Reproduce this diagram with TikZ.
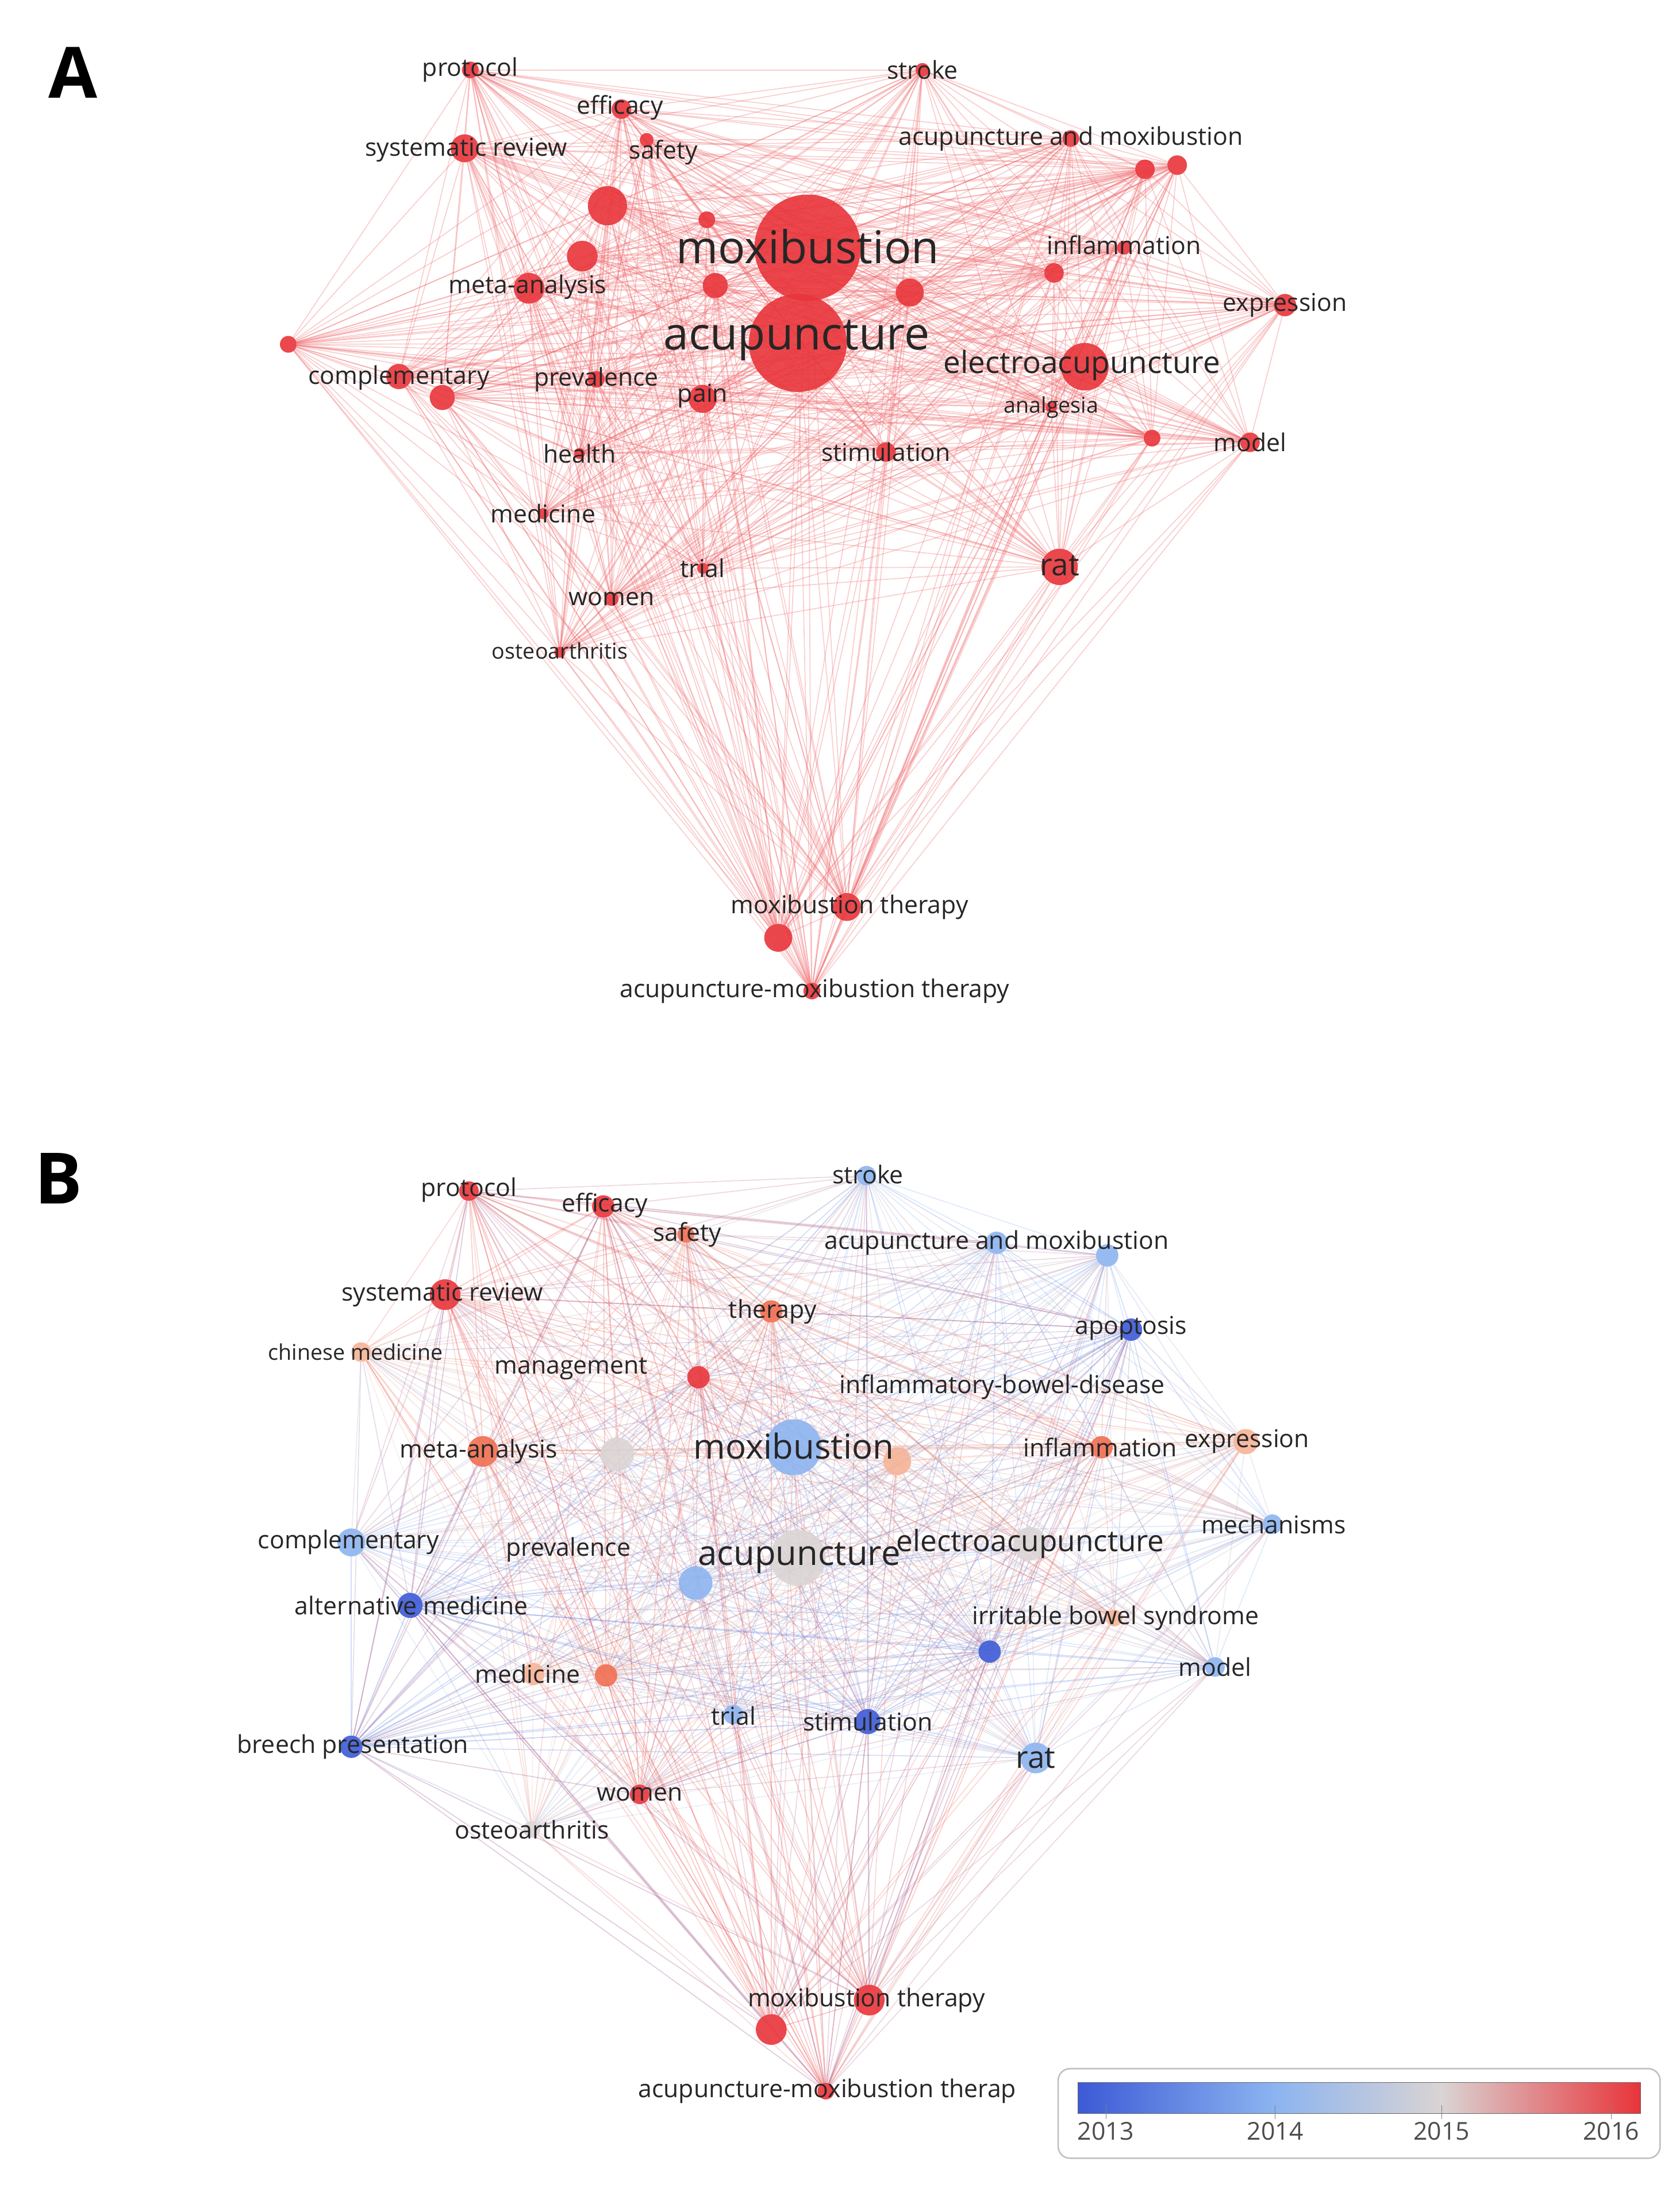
\documentclass[tikz,border=0pt]{standalone}
\usepackage{fontspec}
\setmainfont{Open Sans}
\usetikzlibrary{backgrounds}
\definecolor{c13}{RGB}{60,90,214}
\definecolor{c14}{RGB}{140,180,240}
\definecolor{c15}{RGB}{218,212,212}
\definecolor{c155}{RGB}{245,178,150}
\definecolor{c158}{RGB}{240,110,80}
\definecolor{c16}{RGB}{232,52,58}
\tikzset{
  dot/.style={circle,inner sep=0pt,opacity=0.9},
  lbl/.style={font=\fontsize{25}{27}\selectfont,inner sep=0pt,text=black!85},
  lblS/.style={font=\fontsize{22}{24}\selectfont,inner sep=0pt,text=black!85},
  lblM/.style={font=\fontsize{31}{33}\selectfont,inner sep=0pt,text=black!85},
  lblL/.style={font=\fontsize{46}{48}\selectfont,inner sep=0pt,text=black!85},
  panel/.style={font=\fontsize{72}{72}\selectfont\bfseries,inner sep=0pt}
}
\begin{document}
\begin{tikzpicture}[x=0.05cm,y=-0.05cm]
\useasboundingbox (0,0) rectangle (1200,1569);
\node[panel] (pA) at (52,52) {A};
\node[panel] (pB) at (42,842) {B};
% panel A dots
\foreach \n/\x/\y/\r in {a1/577/177/38,a2/570/245/35,a3/775/262/17,a4/757/405/13,a5/605/648/10,
  a6/556/670/10,a7/580/708/6,a8/336/50/6,a9/659/50/5,a10/444/78/7,a11/332/106/10,a12/462/100/5,
  a13/765/99/6,a14/818/121/7,a15/841/118/7,a16/434/147/14,a17/505/157/6,a18/416/183/11,
  a19/753/195/7,a20/378/206/11,a21/511/204/9,a22/650/209/10,a23/918/218/8,a24/206/246/6,
  a25/285/269/9,a26/316/284/9,a27/426/271/6,a28/502/285/10,a29/751/291/4,a30/823/313/6,
  a31/893/316/7,a32/633/323/7,a33/414/324/4,a34/388/367/4,a35/502/406/4,a36/437/428/5,
  a37/400/466/4,a38/803/177/5}
  \node[dot,fill=c16,minimum size=\r*0.1cm] (\n) at (\x,\y) {};
\begin{pgfonlayer}{background}
\foreach \a [count=\i] in {a1,a2,a3,a4,a5,a6,a7,a8,a9,a10,a11,a12,a13,a14,a15,a16,a17,a18,a19,
  a20,a21,a22,a23,a24,a25,a26,a27,a28,a29,a30,a31,a32,a33,a34,a35,a36,a37,a38}
  \foreach \b [count=\j] in {a1,a2,a3,a4,a5,a6,a7,a8,a9,a10,a11,a12,a13,a14,a15,a16,a17,a18,a19,
  a20,a21,a22,a23,a24,a25,a26,a27,a28,a29,a30,a31,a32,a33,a34,a35,a36,a37,a38}
  {\ifnum\i<\j \draw[c16!75,opacity=0.32,line width=1pt] (\a) -- (\b);\fi}
\end{pgfonlayer}
% panel A labels
\node[lbl] (la8) at (336,50) {protocol};
\node[lbl] (la9) at (659,50) {stroke};
\node[lbl] (la10) at (443,77) {efficacy};
\node[lbl] (la11) at (333,107) {systematic review};
\node[lbl] (la12) at (474,109) {safety};
\node[lbl] (la13) at (765,99) {acupuncture and moxibustion};
\node[lblL] (la1) at (577,176) {moxibustion};
\node[lbl] (la19) at (803,175) {inflammation};
\node[lbl] (la20) at (377,205) {meta-analysis};
\node[lbl] (la23) at (918,218) {expression};
\node[lblL] (la2) at (569,243) {acupuncture};
\node[lblM] (la3) at (773,261) {electroacupuncture};
\node[lbl] (la25) at (285,270) {complementary};
\node[lbl] (la27) at (426,271) {prevalence};
\node[lbl] (la28) at (502,283) {pain};
\node[lblS] (la29) at (751,291) {analgesia};
\node[lbl] (la31) at (893,316) {model};
\node[lbl] (la33) at (414,324) {health};
\node[lbl] (la32) at (633,323) {stimulation};
\node[lbl] (la34) at (388,367) {medicine};
\node[lbl] (la35) at (502,406) {trial};
\node[lblM] (la4) at (757,404) {rat};
\node[lbl] (la36) at (437,428) {women};
\node[lblS] (la37) at (400,465) {osteoarthritis};
\node[lbl] (la5) at (607,648) {moxibustion therapy};
\node[lbl] (la7) at (582,708) {acupuncture-moxibustion therapy};
% panel B dots
\foreach \n/\x/\y/\r/\c in {b1/567/1034/20/c14,b2/570/1113/20/c15,b3/736/1103/12/c15,b4/740/1256/11/c14,
  b5/621/1429/11/c16,b6/551/1450/11/c16,b7/590/1494/6/c16,b8/335/851/7/c16,b9/619/840/7/c14,
  b10/431/862/8/c16,b11/490/882/6/c158,b12/712/888/8/c14,b13/791/897/8/c14,b14/318/925/11/c16,
  b15/551/937/8/c158,b16/808/950/8/c13,b17/258/966/7/c155,b18/499/984/8/c16,b19/345/1037/11/c158,
  b20/441/1039/12/c15,b21/641/1044/10/c155,b22/787/1034/8/c158,b23/890/1030/9/c155,
  b24/251/1102/10/c14,b25/909/1089/7/c14,b26/497/1131/12/c14,b27/293/1147/9/c13,
  b28/796/1156/6/c155,b29/707/1180/8/c13,b30/381/1196/8/c155,b31/433/1197/8/c158,
  b32/868/1191/7/c14,b33/251/1248/8/c13,b34/524/1225/7/c14,b35/620/1230/9/c13,
  b36/457/1282/7/c16,b37/380/1307/6/c15}
  \node[dot,fill=\c,minimum size=\r*0.1cm] (\n) at (\x,\y) {};
\begin{pgfonlayer}{background}
\foreach \a/\ca [count=\i] in {b1/c14,b2/c15,b3/c15,b4/c14,b5/c16,b6/c16,b7/c16,b8/c16,b9/c14,
  b10/c16,b11/c158,b12/c14,b13/c14,b14/c16,b15/c158,b16/c13,b17/c155,b18/c16,b19/c158,b20/c15,
  b21/c155,b22/c158,b23/c155,b24/c14,b25/c14,b26/c14,b27/c13,b28/c155,b29/c13,b30/c155,
  b31/c158,b32/c14,b33/c13,b34/c14,b35/c13,b36/c16,b37/c15}
  \foreach \b/\cb [count=\j] in {b1/c14,b2/c15,b3/c15,b4/c14,b5/c16,b6/c16,b7/c16,b8/c16,b9/c14,
  b10/c16,b11/c158,b12/c14,b13/c14,b14/c16,b15/c158,b16/c13,b17/c155,b18/c16,b19/c158,b20/c15,
  b21/c155,b22/c158,b23/c155,b24/c14,b25/c14,b26/c14,b27/c13,b28/c155,b29/c13,b30/c155,
  b31/c158,b32/c14,b33/c13,b34/c14,b35/c13,b36/c16,b37/c15}
  {\ifnum\i<\j \draw[\ca!50!\cb,opacity=0.28,line width=1pt] (\a) -- (\b);\fi}
\end{pgfonlayer}
% panel B labels
\node[lbl] (lb8) at (335,850) {protocol};
\node[lbl] (lb9) at (620,839) {stroke};
\node[lbl] (lb10) at (432,861) {efficacy};
\node[lbl] (lb11) at (491,882) {safety};
\node[lbl] (lb12) at (712,888) {acupuncture and moxibustion};
\node[lbl] (lb14) at (316,925) {systematic review};
\node[lbl] (lb15) at (552,937) {therapy};
\node[lbl] (lb16) at (808,949) {apoptosis};
\node[lblS] (lb17) at (254,966) {chinese medicine};
\node[lbl] (lb18) at (408,978) {management};
\node[lbl] (lbibd) at (716,991) {inflammatory-bowel-disease};
\node[lbl] (lb19) at (342,1037) {meta-analysis};
\node[lblL,font=\fontsize{35}{37}\selectfont] (lb1) at (567,1033) {moxibustion};
\node[lbl] (lb22) at (786,1034) {inflammation};
\node[lbl] (lb23) at (891,1030) {expression};
\node[lbl] (lb24) at (249,1102) {complementary};
\node[lbl] (lb25) at (910,1089) {mechanisms};
\node[lbl] (lbprev) at (406,1107) {prevalence};
\node[lblL,font=\fontsize{35}{37}\selectfont] (lb2) at (571,1113) {acupuncture};
\node[lblM,font=\fontsize{30}{32}\selectfont] (lb3) at (736,1103) {electroacupuncture};
\node[lbl] (lb27) at (294,1147) {alternative medicine};
\node[lbl] (lb28) at (797,1156) {irritable bowel syndrome};
\node[lbl] (lb30) at (377,1196) {medicine};
\node[lbl] (lb32) at (868,1191) {model};
\node[lbl] (lb33) at (252,1248) {breech presentation};
\node[lbl] (lb34) at (524,1226) {trial};
\node[lbl] (lb35) at (620,1230) {stimulation};
\node[lblM] (lb4) at (740,1256) {rat};
\node[lbl] (lb36) at (457,1282) {women};
\node[lbl] (lb37) at (380,1307) {osteoarthritis};
\node[lbl] (lb5) at (619,1429) {moxibustion therapy};
\node[lbl] (lb7) at (591,1494) {acupuncture-moxibustion therap};
% legend
\draw[black!25,line width=1.5pt,rounded corners=12pt] (756,1478) rectangle (1186,1542);
\shade[left color=c13,right color=c14] (770,1488) rectangle (911,1510);
\shade[left color=c14,right color=c15] (911,1488) rectangle (1030,1510);
\shade[left color=c15,right color=c16] (1030,1488) rectangle (1172,1510);
\draw[black!60] (770,1488) rectangle (1172,1510);
\foreach \x/\t in {790/2013,911/2014,1030/2015,1151/2016}
  \draw[black!50] (\x,1504) -- (\x,1514) node[lbl,below=3pt,text=black!70] {\t};
\end{tikzpicture}
\end{document}
